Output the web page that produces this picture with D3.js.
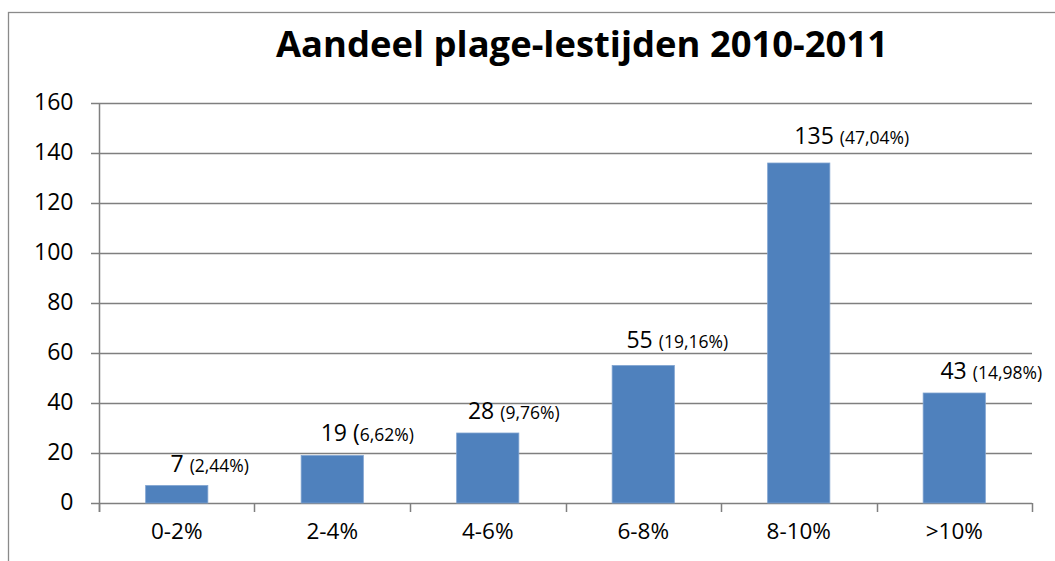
<!doctype html>
<html lang="nl">
<head>
<meta charset="utf-8">
<style>
  body, html { margin: 0; padding: 0; background: white; overflow: hidden; }
  svg { position: absolute; top: 0; left: 0; }
  text { font-family: "Open Sans", "Liberation Sans", sans-serif; fill: #000; }
</style>
</head>
<body>
<div id="chart"></div>
<script src="https://d3js.org/d3.v7.min.js"></script>
<script>

// chart data
const categories = ["0-2%", "2-4%", "4-6%", "6-8%", "8-10%", ">10%"];
const barValues = [7, 19, 28, 55, 136, 44];
const labelCounts = ["7", "19 (", "28", "55", "135", "43"];
const labelPcts = ["(2,44%)", "6,62%)", "(9,76%)", "(19,16%)", "(47,04%)", "(14,98%)"];
const yTicks = [0, 20, 40, 60, 80, 100, 120, 140, 160];
const title = "Aandeel plage-lestijden 2010-2011";

// labels were placed by hand in the original, so nudge them a bit
const labelDx = [33, 35, 26, 34, 53, 37];
const labelDy = [14, 15, 14, 18, 19, 14];

const W = 1055, H = 561;
const gridColor = "#7f7f7f";
const barColor = "#4f81bd";

const svg = d3.select("#chart").append("svg")
  .attr("width", W)
  .attr("height", H);

// outer chart frame
svg.append("rect")
  .attr("x", 8.5).attr("y", 12.5)
  .attr("width", W + 20).attr("height", H + 20)
  .attr("fill", "white")
  .attr("stroke", "#8a8a8a")
  .attr("stroke-width", 1.3);

const plot = {left: 99, right: 1032, top: 103, bottom: 503};

const x = d3.scaleBand()
  .domain(categories)
  .range([plot.left, plot.right])
  .paddingInner(0.6)
  .paddingOuter(0.3);

const y = d3.scaleLinear()
  .domain([0, 160])
  .range([plot.bottom, plot.top]);

// gridlines
svg.append("g").selectAll("line").data(yTicks).enter().append("line")
  .attr("x1", plot.left - 8)
  .attr("x2", plot.right)
  .attr("y1", d => Math.round(y(d)) + 0.5)
  .attr("y2", d => Math.round(y(d)) + 0.5)
  .attr("stroke", gridColor)
  .attr("stroke-width", 1.5);

// y axis labels
const yAxis = svg.append("g")
  .attr("transform", `translate(${plot.left + 0.5},0)`)
  .call(d3.axisLeft(y).tickValues(yTicks).tickSize(0).tickPadding(26));
yAxis.select(".domain").remove();
yAxis.selectAll("text")
  .style("font-family", "'Open Sans', sans-serif")
  .style("font-size", "23px")
  .attr("dy", "0.3em")
  .attr("fill", "#000");

// vertical axis line
svg.append("line")
  .attr("x1", plot.left + 0.5).attr("x2", plot.left + 0.5)
  .attr("y1", plot.top).attr("y2", plot.bottom + 9)
  .attr("stroke", gridColor)
  .attr("stroke-width", 1.5);

// bars
svg.append("g").selectAll("rect").data(barValues).enter().append("rect")
  .attr("x", (d, i) => x(categories[i]))
  .attr("y", d => y(d))
  .attr("width", x.bandwidth())
  .attr("height", d => y(0) - y(d))
  .attr("fill", barColor)
  .attr("stroke", "#7fa3d0")
  .attr("stroke-width", 0.8);

// category boundary ticks on the x axis
const gap = (x.step() - x.bandwidth()) / 2;
const bounds = categories.map(c => x(c) - gap).concat([x(categories[categories.length - 1]) + x.bandwidth() + gap]);
svg.append("g").selectAll("line").data(bounds).enter().append("line")
  .attr("x1", d => Math.round(d) + 0.5)
  .attr("x2", d => Math.round(d) + 0.5)
  .attr("y1", plot.bottom)
  .attr("y2", plot.bottom + 9)
  .attr("stroke", gridColor)
  .attr("stroke-width", 1.5);

// x axis labels
const xAxis = svg.append("g")
  .attr("transform", `translate(0,${plot.bottom})`)
  .call(d3.axisBottom(x).tickSize(0).tickPadding(20));
xAxis.select(".domain").remove();
xAxis.selectAll("text")
  .style("font-family", "'Open Sans', sans-serif")
  .style("font-size", "22.5px")
  .attr("fill", "#000");

// data labels: count big, percentage small
const labels = svg.append("g").selectAll("text").data(barValues).enter().append("text")
  .attr("x", (d, i) => x(categories[i]) + x.bandwidth() / 2 + labelDx[i])
  .attr("y", (d, i) => y(d) - labelDy[i])
  .attr("text-anchor", "middle");
labels.append("tspan")
  .style("font-size", "23px")
  .text((d, i) => labelCounts[i] + (labelCounts[i].endsWith("(") ? "" : " "));
labels.append("tspan")
  .style("font-size", "17.5px")
  .text((d, i) => labelPcts[i]);

// title
svg.append("text")
  .attr("x", 582)
  .attr("y", 57)
  .attr("text-anchor", "middle")
  .attr("textLength", 612)
  .attr("lengthAdjust", "spacingAndGlyphs")
  .style("font-size", "35px")
  .style("font-weight", "bold")
  .text(title);

</script>
</body>
</html>
